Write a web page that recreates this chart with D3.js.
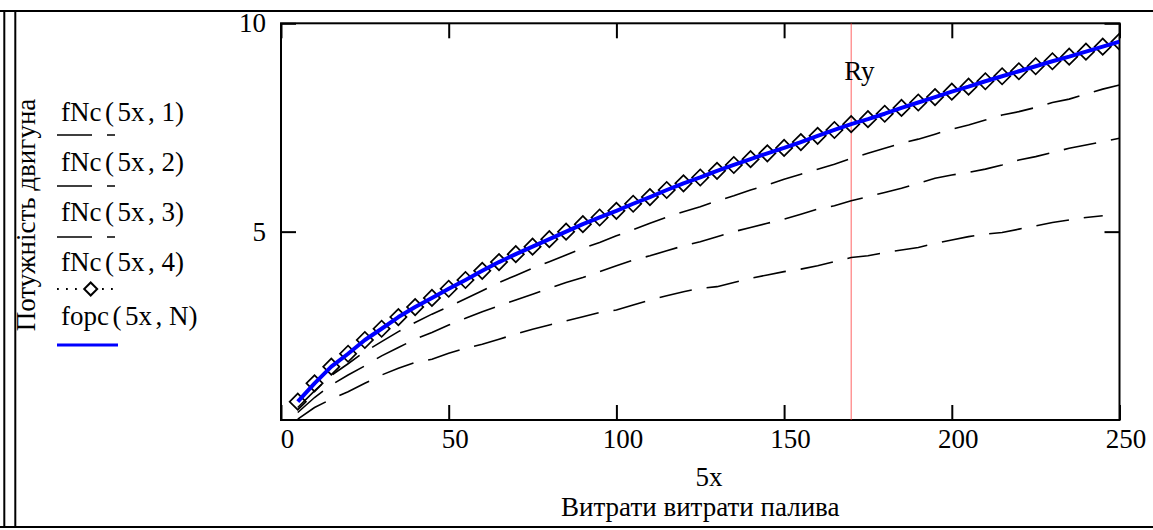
<!DOCTYPE html>
<html>
<head>
<meta charset="utf-8">
<script src="https://cdn.jsdelivr.net/npm/d3@7"></script>
<style>
  html, body { margin: 0; padding: 0; background: #fff; }
  svg { display: block; }
  text { font-family: "Liberation Serif", "Times New Roman", serif; fill: #000; }
</style>
</head>
<body>
<svg id="chart" width="1153" height="530"></svg>
<script>
// Fuel use 5x (x = 1..50)
const fuel = [5, 10, 15, 20, 25, 30, 35, 40, 45, 50,
  55, 60, 65, 70, 75, 80, 85, 90, 95, 100,
  105, 110, 115, 120, 125, 130, 135, 140, 145, 150,
  155, 160, 165, 170, 175, 180, 185, 190, 195, 200,
  205, 210, 215, 220, 225, 230, 235, 240, 245, 250];

// Engine power fNc(5x, k) for k = 1..4
const fNc1 = [0.50, 0.78, 0.98, 1.16, 1.36, 1.56, 1.72, 1.86, 1.94, 2.08,
  2.20, 2.30, 2.42, 2.54, 2.66, 2.76, 2.86, 2.96, 3.06, 3.12,
  3.24, 3.36, 3.46, 3.56, 3.64, 3.68, 3.78, 3.88, 3.96, 4.04,
  4.10, 4.18, 4.28, 4.38, 4.42, 4.50, 4.56, 4.62, 4.72, 4.80,
  4.88, 4.94, 4.98, 5.06, 5.14, 5.22, 5.28, 5.34, 5.38, null];
const fNc2 = [0.66, 1.02, 1.32, 1.56, 1.78, 2.02, 2.22, 2.42, 2.58, 2.76,
  2.92, 3.08, 3.22, 3.36, 3.50, 3.64, 3.78, 3.90, 4.04, 4.18,
  4.32, 4.42, 4.54, 4.66, 4.76, 4.88, 5.00, 5.10, 5.20, 5.30,
  5.42, 5.54, 5.62, 5.74, 5.84, 5.94, 6.04, 6.16, 6.28, 6.36,
  6.42, 6.50, 6.60, 6.72, 6.80, 6.90, 7.00, 7.08, 7.16, 7.24];
const fNc3 = [0.78, 1.18, 1.55, 1.83, 2.12, 2.36, 2.60, 2.82, 3.02, 3.20,
  3.39, 3.58, 3.78, 3.95, 4.12, 4.28, 4.44, 4.60, 4.74, 4.90,
  5.05, 5.20, 5.35, 5.48, 5.60, 5.74, 5.86, 6.00, 6.12, 6.26,
  6.38, 6.50, 6.62, 6.76, 6.88, 7.00, 7.12, 7.22, 7.34, 7.46,
  7.56, 7.68, 7.80, 7.88, 7.98, 8.10, 8.18, 8.30, 8.42, 8.52];
const fNc4 = [0.92, 1.36, 1.76, 2.07, 2.40, 2.67, 2.95, 3.19, 3.41, 3.63,
  3.84, 4.06, 4.27, 4.46, 4.64, 4.82, 5.00, 5.18, 5.34, 5.50,
  5.67, 5.83, 6.00, 6.16, 6.30, 6.46, 6.60, 6.74, 6.88, 7.01,
  7.15, 7.30, 7.44, 7.58, 7.70, 7.83, 7.97, 8.10, 8.23, 8.36,
  8.48, 8.61, 8.73, 8.85, 8.97, 9.09, 9.20, 9.32, 9.44, 9.56];
// Optimal power fopc(5x, N)
const fopcN = [0.92, 1.36, 1.76, 2.07, 2.40, 2.67, 2.95, 3.19, 3.41, 3.63,
  3.84, 4.06, 4.27, 4.46, 4.64, 4.82, 5.00, 5.18, 5.34, 5.50,
  5.67, 5.83, 6.00, 6.16, 6.30, 6.46, 6.60, 6.74, 6.88, 7.01,
  7.15, 7.30, 7.44, 7.58, 7.70, 7.83, 7.97, 8.10, 8.23, 8.36,
  8.48, 8.61, 8.73, 8.85, 8.97, 9.09, 9.20, 9.32, 9.44, 9.56];

const legendLabels = ["fNc(5x, 1)", "fNc(5x, 2)", "fNc(5x, 3)", "fNc(5x, 4)", "fopc(5x, N)"];

// Axis settings
const xLimits = [0, 250];
const yLimits = [0.48, 10];
const xTicks = [0, 50, 100, 150, 200, 250];
const yTicks = [5, 10];
const markerX = 170;
const markerLabel = "Ry";
const xTitle = "5x";
const xSubtitle = "Витрати витрати палива";
const yTitle = "Потужність двигуна";

const FONT = 27;
const svg = d3.select("#chart");
const plot = { left: 281, right: 1119.5, top: 23.3, bottom: 420 };

svg.append("rect").attr("width", 1153).attr("height", 530).attr("fill", "#fff");

// Outer region frame
const frame = svg.append("g").attr("stroke", "#000").attr("stroke-width", 2);
frame.append("line").attr("x1", 0).attr("x2", 1153).attr("y1", 11).attr("y2", 11);
frame.append("line").attr("x1", 0).attr("x2", 1153).attr("y1", 527).attr("y2", 527);
frame.append("line").attr("x1", 4.3).attr("x2", 4.3).attr("y1", 10).attr("y2", 528);
frame.append("line").attr("x1", 15.3).attr("x2", 15.3).attr("y1", 10).attr("y2", 528);

const x = d3.scaleLinear().domain(xLimits).range([plot.left, plot.right]);
const y = d3.scaleLinear().domain(yLimits).range([plot.bottom, plot.top]);

svg.append("clipPath").attr("id", "plot-clip")
  .append("rect")
  .attr("x", plot.left).attr("y", plot.top)
  .attr("width", plot.right - plot.left).attr("height", plot.bottom - plot.top);

// Axes with inward ticks on all four sides
function styleAxis(g) {
  g.select(".domain").remove();
  g.selectAll(".tick line").attr("stroke", "#000").attr("stroke-width", 2);
  g.attr("font-size", FONT).attr("font-family", null);
}
const gBottom = svg.append("g").attr("transform", `translate(0,${plot.bottom})`)
  .call(d3.axisBottom(x).tickValues(xTicks).tickSizeInner(-15).tickSizeOuter(0).tickPadding(9))
  .call(styleAxis);
gBottom.selectAll(".tick text").attr("dx", 6);

svg.append("g").attr("transform", `translate(0,${plot.top})`)
  .call(d3.axisTop(x).tickValues(xTicks).tickSizeInner(-15).tickSizeOuter(0).tickFormat(""))
  .call(styleAxis);

svg.append("g").attr("transform", `translate(${plot.left},0)`)
  .call(d3.axisLeft(y).tickValues(yTicks).tickSizeInner(-15).tickSizeOuter(0).tickPadding(15))
  .call(styleAxis);

svg.append("g").attr("transform", `translate(${plot.right},0)`)
  .call(d3.axisRight(y).tickValues(yTicks).tickSizeInner(-15).tickSizeOuter(0).tickFormat(""))
  .call(styleAxis);

svg.append("rect")
  .attr("x", plot.left).attr("y", plot.top)
  .attr("width", plot.right - plot.left).attr("height", plot.bottom - plot.top)
  .attr("fill", "none").attr("stroke", "#000").attr("stroke-width", 2);

// Marker line Ry
svg.append("line")
  .attr("x1", x(markerX)).attr("x2", x(markerX))
  .attr("y1", plot.top).attr("y2", plot.bottom)
  .attr("stroke", "#ff3030").attr("stroke-width", 1).attr("opacity", 0.75);
svg.append("text")
  .attr("x", x(markerX) - 7).attr("y", 80)
  .attr("font-size", FONT).text(markerLabel);

// Curves
const plotG = svg.append("g").attr("clip-path", "url(#plot-clip)");
const pairs = vals => fuel.map((f, i) => ({ f, v: vals[i] }));
const line = d3.line().defined(d => d.v != null).x(d => x(d.f)).y(d => y(d.v));

[fNc1, fNc2, fNc3].forEach(vals => {
  plotG.append("path").datum(pairs(vals))
    .attr("d", line)
    .attr("fill", "none").attr("stroke", "#000")
    .attr("stroke-width", 1.6).attr("stroke-dasharray", "33,15");
});

const diamond = d3.symbol().type(d3.symbolSquare).size(132);
plotG.append("g").selectAll("path").data(pairs(fNc4)).join("path")
  .attr("d", diamond)
  .attr("transform", d => `translate(${x(d.f)},${y(d.v)}) rotate(45)`)
  .attr("fill", "none").attr("stroke", "#000").attr("stroke-width", 1.7);

plotG.append("path").datum(pairs(fopcN))
  .attr("d", line)
  .attr("fill", "none").attr("stroke", "#0000ff").attr("stroke-width", 4)
  .attr("stroke-linejoin", "round");

// Legend
const legendTextY = [121, 171, 221, 271, 325];
const legendSampleY = [135, 186, 237, 289, 345];
const legend = svg.append("g");
legendLabels.forEach((label, i) => {
  const t = legend.append("text").attr("x", 61).attr("y", legendTextY[i]).attr("font-size", FONT);
  const tokens = label.split(/([(,])/).filter(s => s.length);
  let prev = null;
  tokens.forEach(tok => {
    const gap = (tok === "(" || tok === "," || prev === "(") ? 3.5 : 0;
    t.append("tspan").attr("dx", gap).text(tok);
    prev = tok;
  });
  const sy = legendSampleY[i];
  if (i < 3) {
    legend.append("line").attr("x1", 57).attr("x2", 115).attr("y1", sy).attr("y2", sy)
      .attr("stroke", "#000").attr("stroke-width", 1.6).attr("stroke-dasharray", "35,15");
  } else if (i === 3) {
    legend.append("line").attr("x1", 57).attr("x2", 115).attr("y1", sy).attr("y2", sy)
      .attr("stroke", "#000").attr("stroke-width", 1.8).attr("stroke-dasharray", "1.8,7.2");
    legend.append("path")
      .attr("d", d3.symbol().type(d3.symbolSquare).size(84)())
      .attr("transform", `translate(90.7,${sy}) rotate(45)`)
      .attr("fill", "#fff").attr("stroke", "#000").attr("stroke-width", 2);
  } else {
    legend.append("line").attr("x1", 57).attr("x2", 118).attr("y1", sy).attr("y2", sy)
      .attr("stroke", "#0000ff").attr("stroke-width", 3);
  }
});

// Axis titles
svg.append("text").attr("x", 709).attr("y", 486).attr("text-anchor", "middle")
  .attr("font-size", FONT).text(xTitle);
svg.append("text").attr("x", (plot.left + plot.right) / 2).attr("y", 516).attr("text-anchor", "middle")
  .attr("font-size", FONT).text(xSubtitle);
svg.append("text").attr("transform", "translate(35,215) rotate(-90)").attr("text-anchor", "middle")
  .attr("font-size", FONT).text(yTitle);
</script>
</body>
</html>
